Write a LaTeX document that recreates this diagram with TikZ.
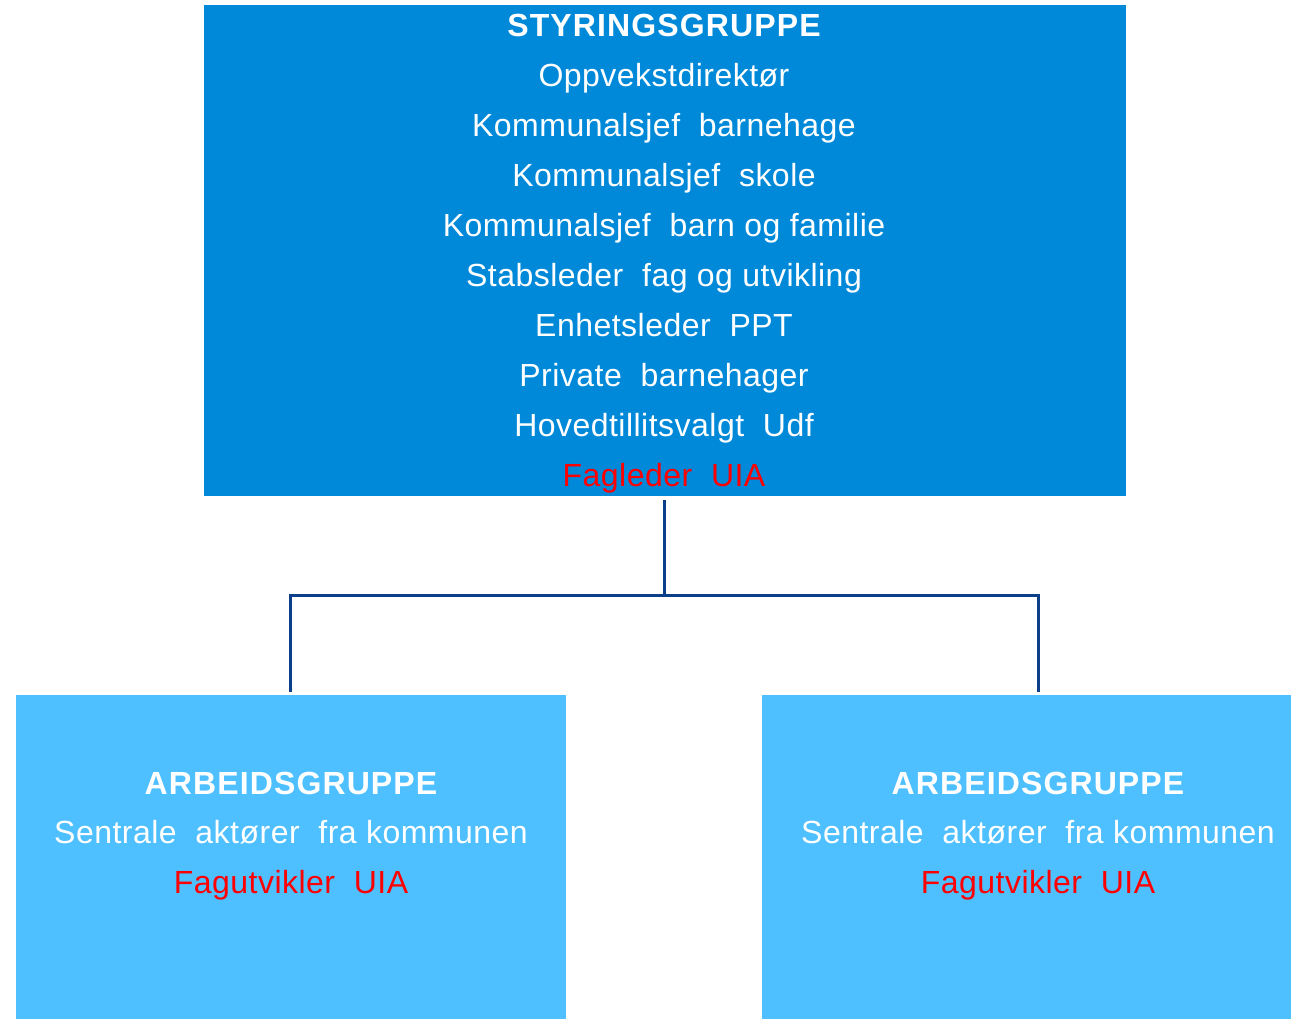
\documentclass[tikz,border=0pt]{standalone}
\usepackage{fontspec}
\setmainfont{Liberation Sans}
\definecolor{topblue}{HTML}{0089D9}
\definecolor{lightblue}{HTML}{4FC0FF}
\definecolor{linkblue}{HTML}{0B3F8A}
\definecolor{uiared}{HTML}{FF0000}
\tikzset{
  boxtop/.style={draw=none,fill=topblue,inner sep=0pt,anchor=north west},
  boxlow/.style={draw=none,fill=lightblue,inner sep=0pt,anchor=north west},
  txt/.style={text=white,anchor=base,inner sep=0pt,font=\fontsize{32}{38}\selectfont\addfontfeature{LetterSpace=1.5}},
  hdr/.style={txt,font=\fontsize{32}{38}\selectfont\bfseries\addfontfeature{LetterSpace=3.5}},
  red/.style={txt,text=uiared},
  link/.style={draw=linkblue,line width=3pt}
}
\begin{document}
\begin{tikzpicture}[x=1pt,y=-1pt]
\useasboundingbox (0,0) rectangle (1291,1018);
\node[boxtop,minimum width=922pt,minimum height=491pt] (top) at (204,5) {};
\node[boxlow,minimum width=550pt,minimum height=340pt] (left) at (16,695) {};
\node[boxlow,minimum width=550pt,minimum height=340pt] (right) at (762,695) {};
% top texts
\node[hdr] (t0) at (664,36) {STYRINGSGRUPPE};
\node[txt] (t1) at (664,86) {Oppvekstdirektør};
\node[txt] (t2) at (664,136) {Kommunalsjef~~barnehage};
\node[txt] (t3) at (664,186) {Kommunalsjef~~skole};
\node[txt] (t4) at (664,236) {Kommunalsjef~~barn og familie};
\node[txt] (t5) at (664,286) {Stabsleder~~fag og utvikling};
\node[txt] (t6) at (664,336) {Enhetsleder~~PPT};
\node[txt] (t7) at (664,386) {Private~~barnehager};
\node[txt] (t8) at (664,436) {Hovedtillitsvalgt~~Udf};
\node[red] (t9) at (664,486) {Fagleder~~UIA};
% left texts
\node[hdr] (l0) at (291,794) {ARBEIDSGRUPPE};
\node[txt] (l1) at (291,843) {Sentrale~~aktører~~fra kommunen};
\node[red] (l2) at (291,893) {Fagutvikler~~UIA};
% right texts
\node[hdr] (r0) at (1038,794) {ARBEIDSGRUPPE};
\node[txt] (r1) at (1038,843) {Sentrale~~aktører~~fra kommunen};
\node[red] (r2) at (1038,893) {Fagutvikler~~UIA};
% connectors
\coordinate (topout) at (664,500);
\coordinate (junc) at (664,595);
\coordinate (lin) at (290,692);
\coordinate (rin) at (1038,692);
\draw[link] (topout) -- (junc);
\draw[link] (junc) -| (lin);
\draw[link] (junc) -| (rin);
\end{tikzpicture}
\end{document}
